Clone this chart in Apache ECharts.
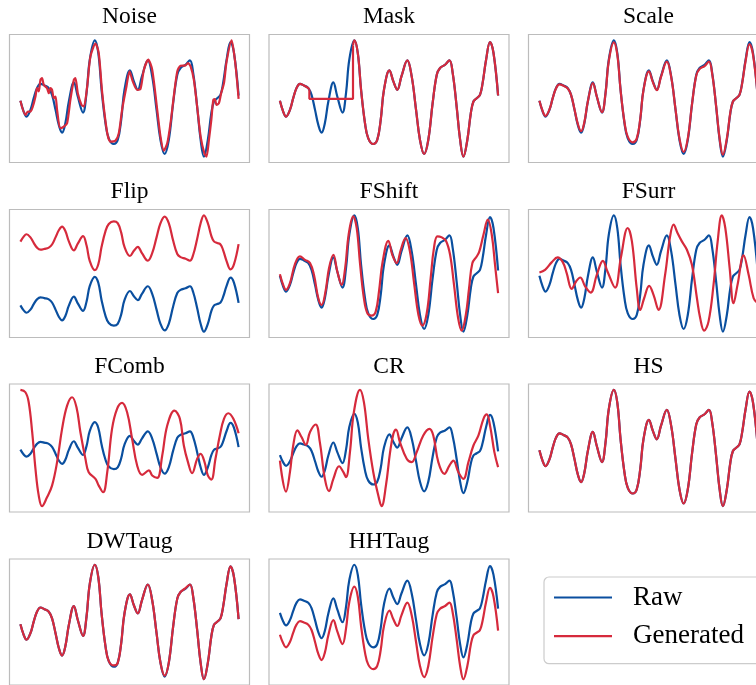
<!DOCTYPE html>
<html><head><meta charset="utf-8">
<script src="https://cdn.jsdelivr.net/npm/echarts@6/dist/echarts.min.js"></script>
<style>html,body{margin:0;padding:0;background:#fff;overflow:hidden;width:756px;height:685px}#c{width:790px;height:685px}</style>
</head><body><div id="c"></div><script>
// ---------- data (sample index 0..100, amplitude) ----------
const panelTitles = ['Noise','Mask','Scale','Flip','FShift','FSurr','FComb','CR','HS','DWTaug','HHTaug'];
const legendLabels = ['Raw','Generated'];

const rawTime = [0,1.5,2.8,4.6,6.1,7.6,9.2,11.0,13.0,14.5,16.1,17.6,19.1,20.6,22.2,24.5,26.3,28.7,30.3,31.8,34.1,35.7,37.2,39.0,40.5,42.8,44.6,46.2,47.7,50.2,52.0,53.8,55.7,58.4,60.4,62.4,64.2,66.1,68.0,70.0,71.9,73.4,75.7,77.7,79.2,81.0,82.6,84.1,85.9,87.5,88.7,90.2,91.7,92.9,94.5,96.3,97.9,100];
const raw = [-0.07,-0.39,-0.54,-0.34,0.01,0.31,0.44,0.39,0.31,0.11,-0.34,-0.79,-1.02,-0.74,-0.09,0.48,0.06,-0.42,0.16,1.16,1.74,1.36,0.26,-0.74,-1.19,-1.36,-1.24,-0.64,0.26,0.84,0.51,0.26,0.66,1.14,0.66,-0.34,-1.24,-1.66,-1.24,-0.14,0.71,0.91,1.01,1.14,0.76,-0.24,-1.24,-1.74,-1.24,-0.44,-0.09,0.01,0.11,0.46,1.16,1.69,1.36,0.09];

const scaleGen = [-0.07,-0.38,-0.52,-0.33,0.01,0.30,0.42,0.38,0.30,0.11,-0.33,-0.76,-0.98,-0.71,-0.09,0.46,0.06,-0.41,0.15,1.12,1.68,1.31,0.25,-0.71,-1.15,-1.31,-1.20,-0.62,0.25,0.81,0.49,0.25,0.64,1.10,0.64,-0.33,-1.20,-1.60,-1.20,-0.14,0.69,0.88,0.97,1.10,0.73,-0.23,-1.20,-1.68,-1.20,-0.42,-0.09,0.01,0.11,0.44,1.12,1.63,1.31,0.09];
const flipGen = [3.97,4.29,4.44,4.24,3.89,3.59,3.46,3.51,3.59,3.79,4.24,4.69,4.92,4.64,3.99,3.42,3.84,4.32,3.74,2.74,2.16,2.54,3.64,4.64,5.09,5.26,5.14,4.54,3.64,3.06,3.39,3.64,3.24,2.76,3.24,4.24,5.14,5.56,5.14,4.04,3.19,2.99,2.89,2.76,3.14,4.14,5.14,5.64,5.14,4.34,3.99,3.89,3.79,3.44,2.74,2.21,2.54,3.81];
const hsGen = [-0.07,-0.39,-0.54,-0.34,0.01,0.31,0.44,0.39,0.31,0.11,-0.34,-0.79,-1.02,-0.74,-0.09,0.48,0.06,-0.42,0.16,1.16,1.74,1.36,0.26,-0.74,-1.19,-1.36,-1.24,-0.64,0.26,0.84,0.51,0.26,0.66,1.14,0.66,-0.34,-1.24,-1.66,-1.24,-0.14,0.71,0.91,1.01,1.14,0.76,-0.24,-1.24,-1.74,-1.24,-0.44,-0.09,0.01,0.11,0.46,1.16,1.69,1.36,0.09];
const dwtGen = [-0.07,-0.39,-0.54,-0.34,0.01,0.31,0.44,0.39,0.31,0.11,-0.34,-0.79,-1.02,-0.74,-0.09,0.48,0.06,-0.42,0.16,1.16,1.74,1.36,0.26,-0.74,-1.19,-1.32,-1.24,-0.64,0.26,0.84,0.51,0.26,0.66,1.14,0.66,-0.34,-1.24,-1.63,-1.24,-0.14,0.71,0.91,1.03,1.14,0.76,-0.24,-1.24,-1.74,-1.24,-0.44,-0.09,0.01,0.11,0.46,1.16,1.69,1.36,0.09];
const hhtGen = [-0.89,-1.21,-1.36,-1.16,-0.81,-0.51,-0.38,-0.43,-0.51,-0.71,-1.16,-1.61,-1.84,-1.56,-0.91,-0.34,-0.76,-1.24,-0.66,0.34,0.92,0.54,-0.56,-1.56,-2.01,-2.18,-2.06,-1.46,-0.56,0.02,-0.31,-0.56,-0.16,0.32,-0.16,-1.16,-2.06,-2.48,-2.06,-0.96,-0.11,0.09,0.19,0.32,-0.06,-1.06,-2.06,-2.56,-2.06,-1.26,-0.91,-0.81,-0.71,-0.36,0.34,0.87,0.54,-0.73];

const noiseGen = [[0,-0.07],[2.3,-0.49],[3.4,-0.39],[4.6,-0.39],[5.7,-0.24],[6.9,0.06],[7.6,0.31],[8.4,0.21],[9.2,0.56],[9.9,0.61],[10.7,0.41],[12.2,0.31],[13.0,0.16],[13.8,0.31],[14.5,0.26],[15.3,0.01],[16.1,0.06],[16.8,-0.34],[18.3,-0.89],[19.9,-0.84],[21.4,-0.74],[22.9,-0.04],[24.5,0.56],[25.2,0.61],[26.3,0.16],[28.0,-0.19],[29.1,-0.24],[30.6,0.36],[32.1,1.26],[34.4,1.64],[35.9,1.36],[37.5,0.16],[39.8,-1.04],[41.3,-1.29],[43.6,-1.26],[45.1,-1.04],[46.6,-0.34],[48.6,0.36],[50.0,0.81],[51.5,0.51],[53.5,0.26],[55.0,0.28],[56.6,0.86],[58.6,1.16],[60.4,0.86],[62.7,-0.34],[64.2,-1.14],[65.7,-1.56],[67.3,-1.34],[68.8,-0.74],[70.3,0.06],[71.9,0.81],[73.4,0.98],[75.7,0.99],[76.8,1.06],[78.0,0.96],[79.5,0.56],[81.0,-0.24],[82.6,-1.14],[84.4,-1.66],[85.3,-1.74],[86.4,-1.24],[87.5,-0.64],[88.4,-0.04],[89.1,-0.02],[89.9,-0.19],[91.0,-0.14],[92.0,0.16],[93.3,0.46],[94.5,1.11],[96.8,1.74],[98.3,1.16],[99.4,0.46],[100,-0.01]];

const maskGenHead = [[0,-0.07],[1.5,-0.39],[2.8,-0.54],[4.6,-0.34],[6.1,0.01],[7.6,0.31],[9.2,0.44],[11.0,0.39],[13.0,0.31],[13.5,0.27]];
const maskGenGap = [[13.5,0.27],[13.5,-0.01],[33.5,-0.01],[33.5,1.58]];
const maskGenTail = [[33.5,1.58],[34.1,1.74],[35.7,1.36],[37.2,0.26],[39.0,-0.74],[40.5,-1.19],[42.8,-1.36],[44.6,-1.24],[46.2,-0.64],[47.7,0.26],[50.2,0.84],[52.0,0.51],[53.8,0.26],[55.7,0.66],[58.4,1.14],[60.4,0.66],[62.4,-0.34],[64.2,-1.24],[66.1,-1.66],[68.0,-1.24],[70.0,-0.14],[71.9,0.71],[73.4,0.91],[75.7,1.01],[77.7,1.14],[79.2,0.76],[81.0,-0.24],[82.6,-1.24],[84.1,-1.74],[85.9,-1.24],[87.5,-0.44],[88.7,-0.09],[90.2,0.01],[91.7,0.11],[92.9,0.46],[94.5,1.16],[96.3,1.69],[97.9,1.36],[100,0.09]];

const fshiftGen = [[0,-0.02],[1.5,-0.34],[2.8,-0.49],[4.6,-0.29],[6.9,0.28],[9.2,0.51],[11.5,0.41],[13.8,0.31],[15.6,-0.04],[17.6,-0.74],[19.1,-0.94],[20.9,-0.54],[22.5,0.16],[24.5,0.56],[26.3,0.06],[28.3,-0.34],[29.9,0.16],[31.5,1.16],[33.6,1.71],[35.2,1.36],[36.7,0.31],[38.5,-0.74],[40.1,-1.19],[42.0,-1.26],[43.9,-1.14],[45.4,-0.54],[47.1,0.36],[49.7,0.98],[51.5,0.56],[53.5,0.31],[55.4,0.71],[57.6,1.06],[59.6,0.66],[61.6,-0.34],[63.5,-1.24],[65.3,-1.56],[67.3,-1.19],[69.1,-0.14],[70.6,0.76],[72.2,1.11],[74.2,1.08],[76.1,0.98],[78.0,0.56],[79.8,-0.34],[81.7,-1.34],[83.3,-1.71],[85.2,-1.24],[86.7,-0.44],[88.2,0.31],[90.2,0.51],[91.4,0.66],[93.3,1.16],[95.3,1.61],[97.1,1.16],[98.6,0.26],[100,-0.59]];

const fsurrGen = [[0,0.03],[2.6,0.11],[5.7,0.34],[8.3,0.48],[10.7,0.34],[12.5,0.01],[14.8,-0.46],[16.8,-0.24],[18.7,-0.12],[21.0,-0.39],[23.5,-0.57],[26.3,-0.04],[29.1,0.38],[31.2,0.06],[34.7,-0.42],[37.3,0.46],[40.5,1.36],[42.4,0.96],[44.6,-0.44],[46.2,-1.09],[48.0,-0.74],[50.3,-0.37],[52.3,-0.64],[54.6,-1.09],[57.6,-0.04],[59.9,1.11],[61.5,1.46],[63.3,1.21],[65.3,0.96],[67.6,0.71],[69.9,0.26],[72.2,-0.74],[73.7,-1.34],[75.5,-1.71],[77.5,-1.44],[79.8,-0.34],[81.7,0.96],[83.6,1.74],[85.2,1.36],[87.2,0.16],[89.0,-0.89],[90.8,-0.34],[93.6,0.54],[95.9,-0.04],[98.2,-0.74],[100,-0.89]];

const fcombGen = [[0,3.88],[2.3,3.72],[3.8,3.06],[5.4,1.08],[6.9,-1.34],[8.4,-3.11],[9.9,-3.81],[12.2,-3.22],[14.5,-2.45],[16.8,-0.90],[19.1,1.30],[21.4,2.84],[23.7,3.39],[25.7,2.73],[27.5,1.08],[29.8,-0.68],[31.3,-1.56],[34.4,-2.00],[35.9,-2.45],[37.9,-2.89],[39.8,-1.56],[42.0,1.30],[44.3,2.62],[46.6,3.02],[48.9,2.40],[51.2,0.64],[53.5,-1.12],[55.8,-1.74],[58.9,-1.45],[60.4,-1.78],[62.7,-1.94],[65.0,-0.46],[67.3,1.52],[70.6,2.51],[73.1,1.96],[74.9,0.20],[76.8,-0.90],[78.7,-1.63],[81.0,-0.68],[82.6,-0.35],[84.4,-0.90],[85.9,-1.78],[87.5,-2.05],[89.4,-0.68],[91.4,0.86],[93.3,1.96],[95.3,2.33],[97.6,1.96],[100,1.01]];

const crGen = [[0,-0.31],[2.8,-1.67],[4.6,-0.82],[6.1,0.35],[8.0,1.01],[9.9,0.72],[11.9,0.38],[13.8,0.94],[16.4,1.27],[18.3,0.50],[20.6,-1.11],[22.5,-1.65],[24.5,-1.11],[27.1,-0.56],[29.1,-0.82],[30.3,-1.04],[32.1,0.06],[33.9,1.81],[36.7,2.79],[38.5,2.25],[40.5,0.64],[42.8,-0.82],[45.1,-1.84],[46.6,-2.31],[48.6,-1.40],[50.5,0.06],[52.0,0.86],[53.2,1.05],[55.0,0.50],[58.1,-0.23],[60.4,-0.38],[62.7,0.06],[65.7,0.79],[68.5,1.08],[70.3,0.79],[72.6,-0.38],[75.4,-0.89],[77.7,-0.53],[79.5,-0.31],[81.8,-0.82],[84.1,-1.11],[86.4,-0.38],[88.7,0.35],[91.0,0.79],[93.3,1.52],[94.8,1.71],[96.3,1.23],[98.3,0.06],[100,-0.60]];

// ---------- build ----------
const BLUE = '#0a4f9f', RED = '#d62a3c';
const FONT = '"Liberation Serif","Times New Roman",serif';
const zip = (ts, vs) => ts.map((t, i) => [t, vs[i]]);
const rawPairs = zip(rawTime, raw);

const genSets = {
  Noise: [noiseGen],
  Mask: [maskGenHead, maskGenGap, maskGenTail],
  Scale: [zip(rawTime, scaleGen)],
  Flip: [zip(rawTime, flipGen)],
  FShift: [fshiftGen],
  FSurr: [fsurrGen],
  FComb: [fcombGen],
  CR: [crGen],
  HS: [zip(rawTime, hsGen)],
  DWTaug: [zip(rawTime, dwtGen)],
  HHTaug: [zip(rawTime, hhtGen)]
};

const colLeft = [9.5, 269, 528.5];
const rowTop = [34.5, 209.5, 384, 559];
const W = 240, H = 128;

const grids = [], xAxes = [], yAxes = [], series = [], graphics = [];
panelTitles.forEach((name, i) => {
  const c = i % 3, r = Math.floor(i / 3);
  grids.push({left: colLeft[c], top: rowTop[r], width: W, height: H, show: true,
    borderColor: '#bcbcbc', borderWidth: 1.2, backgroundColor: 'transparent'});
  xAxes.push({type: 'value', gridIndex: i, min: -5, max: 105, show: false});
  yAxes.push({type: 'value', gridIndex: i, show: false, scale: true,
    min: v => v.min - (v.max - v.min) * 0.05,
    max: v => v.max + (v.max - v.min) * 0.05});
  graphics.push({type: 'text', x: colLeft[c] + W / 2, y: rowTop[r] - 17.5,
    style: {text: name, font: '23.5px ' + FONT, fill: '#000', align: 'center', verticalAlign: 'middle'}});
  series.push({name: 'Raw', type: 'line', xAxisIndex: i, yAxisIndex: i, data: rawPairs,
    showSymbol: false, symbol: 'none', smooth: 0.4, itemStyle: {color: BLUE},
    lineStyle: {color: BLUE, width: 2.2}, z: 2});
  genSets[name].forEach(d => {
    const isGap = d === maskGenGap;
    series.push({name: 'Generated', type: 'line', xAxisIndex: i, yAxisIndex: i, data: d,
      showSymbol: false, symbol: 'none', smooth: isGap ? false : (name === 'Noise' ? 0.25 : 0.4),
      itemStyle: {color: RED}, lineStyle: {color: RED, width: 2.2}, z: 3});
  });
});

const chart = echarts.init(document.getElementById('c'), null, {renderer: 'canvas'});
chart.setOption({
  animation: false,
  backgroundColor: '#fff',
  grid: grids, xAxis: xAxes, yAxis: yAxes, series: series,
  graphic: graphics,
  legend: {
    data: legendLabels, orient: 'vertical', left: 544, top: 577,
    icon: 'rect', itemWidth: 58, itemHeight: 2.2, itemGap: 11.7,
    padding: [7, 26, 14, 10],
    borderColor: '#cccccc', borderWidth: 1.2, borderRadius: 5, backgroundColor: '#fff',
    selectedMode: false,
    textStyle: {fontFamily: FONT, fontSize: 27, color: '#000', padding: [0, 0, 0, 16]}
  }
});
</script></body></html>
